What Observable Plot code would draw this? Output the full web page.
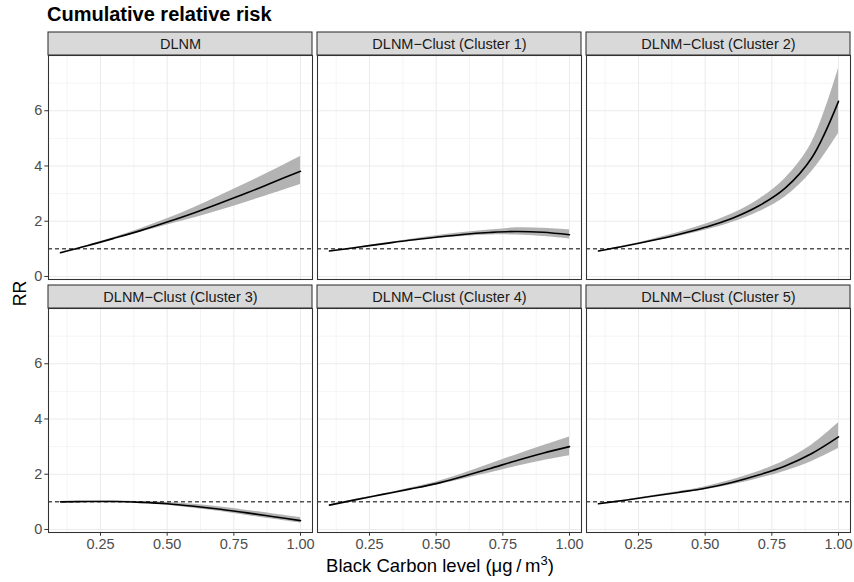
<!DOCTYPE html>
<html>
<head>
<meta charset="utf-8">
<script src="https://cdn.jsdelivr.net/npm/d3@7"></script>
<script src="https://cdn.jsdelivr.net/npm/@observablehq/plot@0.6"></script>
<style>
  html, body { margin: 0; padding: 0; background: #fff; }
  #wrap { position: relative; width: 854px; height: 582px; font-family: "Liberation Sans", Arial, Helvetica, sans-serif; }
  #title { box-sizing: border-box; height: 28px; padding-top: 2px; line-height: 24px; padding-left: 47px; font-size: 20px; font-weight: bold; color: #000; }
  svg { display: block; }
</style>
</head>
<body>
<div id="wrap">
  <div id="title">Cumulative relative risk</div>
  <div id="chart"></div>
</div>
<script>
// ---- data ----
const panelNames = ["DLNM", "DLNM\u2212Clust (Cluster 1)", "DLNM\u2212Clust (Cluster 2)",
                    "DLNM\u2212Clust (Cluster 3)", "DLNM\u2212Clust (Cluster 4)", "DLNM\u2212Clust (Cluster 5)"];
const bcLevel = [0.1, 0.2, 0.3, 0.4, 0.5, 0.6, 0.7, 0.8, 0.9, 1.0];

const fitDLNM = [0.86, 1.11, 1.38, 1.66, 1.97, 2.30, 2.66, 3.03, 3.42, 3.81];
const lowDLNM = [0.85, 1.10, 1.36, 1.60, 1.86, 2.12, 2.40, 2.70, 3.01, 3.33];
const uppDLNM = [0.87, 1.12, 1.41, 1.73, 2.09, 2.49, 2.93, 3.38, 3.85, 4.34];

const fitC1 = [0.92, 1.05, 1.18, 1.31, 1.42, 1.52, 1.59, 1.63, 1.60, 1.51];
const lowC1 = [0.91, 1.04, 1.16, 1.28, 1.38, 1.45, 1.50, 1.50, 1.45, 1.36];
const uppC1 = [0.93, 1.06, 1.20, 1.34, 1.47, 1.59, 1.68, 1.76, 1.75, 1.69];

const fitC2 = [0.92, 1.10, 1.30, 1.52, 1.78, 2.10, 2.55, 3.20, 4.30, 6.34];
const lowC2 = [0.91, 1.08, 1.26, 1.45, 1.67, 1.95, 2.33, 2.88, 3.80, 5.18];
const uppC2 = [0.93, 1.12, 1.34, 1.59, 1.89, 2.26, 2.78, 3.55, 4.85, 7.53];

const fitC3 = [1.00, 1.01, 1.01, 0.98, 0.93, 0.84, 0.73, 0.60, 0.46, 0.32];
const lowC3 = [0.99, 1.00, 0.99, 0.95, 0.88, 0.77, 0.65, 0.51, 0.37, 0.23];
const uppC3 = [1.01, 1.02, 1.03, 1.01, 0.98, 0.91, 0.81, 0.69, 0.56, 0.43];

const fitC4 = [0.88, 1.08, 1.27, 1.46, 1.66, 1.92, 2.20, 2.49, 2.76, 3.00];
const lowC4 = [0.87, 1.07, 1.26, 1.43, 1.60, 1.82, 2.04, 2.28, 2.49, 2.67];
const uppC4 = [0.89, 1.09, 1.28, 1.49, 1.72, 2.02, 2.36, 2.70, 3.03, 3.35];

const fitC5 = [0.93, 1.06, 1.20, 1.34, 1.49, 1.70, 1.97, 2.30, 2.75, 3.35];
const lowC5 = [0.92, 1.05, 1.19, 1.31, 1.44, 1.62, 1.84, 2.11, 2.46, 2.93];
const uppC5 = [0.94, 1.07, 1.22, 1.37, 1.55, 1.79, 2.10, 2.50, 3.06, 3.86];

const xTicks = [0.25, 0.50, 0.75, 1.00];
const xMinor = [0.125, 0.375, 0.625, 0.875];
const yTicks = [0, 2, 4, 6];
const yMinor = [1, 3, 5, 7];
const refRR = 1;

// ---- build tables ----
const fits = [fitDLNM, fitC1, fitC2, fitC3, fitC4, fitC5];
const lows = [lowDLNM, lowC1, lowC2, lowC3, lowC4, lowC5];
const upps = [uppDLNM, uppC1, uppC2, uppC3, uppC4, uppC5];
const panels = panelNames.map((name, i) => ({name, col: i % 3, row: Math.floor(i / 3)}));
const rows = [];
panels.forEach((p, i) => {
  bcLevel.forEach((x, j) => rows.push({col: p.col, row: p.row, x, fit: fits[i][j], lo: lows[i][j], hi: upps[i][j]}));
});

// ---- layout ----
const W = 854, H = 554;
const mTop = 27, mBottom = 50, mLeft = 47, mRight = 4;
const xDom = [0.055, 1.045];
const yDom = [-0.11, 8.0];
const panelH = 224, rowGap = 29, colGap = 5.5;
const stripPx = 23;
const pxPerUnit = panelH / (yDom[1] - yDom[0]);
const stripTop = yDom[1] + stripPx / pxPerUnit;
const panelW = (W - mLeft - mRight - 2 * colGap) / 3;

const font = "'Liberation Sans', Arial, Helvetica, sans-serif";

const svg = Plot.plot({
  width: W, height: H,
  marginTop: mTop, marginBottom: mBottom, marginLeft: mLeft, marginRight: mRight,
  style: {fontFamily: font, fontSize: "14px", background: "#fff", overflow: "visible"},
  fx: {domain: [0, 1, 2], paddingInner: colGap / (panelW + colGap), paddingOuter: 0, axis: null, label: null},
  fy: {domain: [0, 1], paddingInner: rowGap / (panelH + rowGap), paddingOuter: 0, axis: null, label: null},
  x: {domain: xDom, label: null},
  y: {domain: yDom, label: null},
  marks: [
    Plot.gridX(xMinor, {stroke: "#ebebeb", strokeOpacity: 1, strokeWidth: 0.55}),
    Plot.gridY(yMinor, {stroke: "#ebebeb", strokeOpacity: 1, strokeWidth: 0.55}),
    Plot.gridX(xTicks, {stroke: "#ebebeb", strokeOpacity: 1, strokeWidth: 1.07}),
    Plot.gridY(yTicks, {stroke: "#ebebeb", strokeOpacity: 1, strokeWidth: 1.07}),
    Plot.areaY(rows, {fx: "col", fy: "row", x: "x", y1: "lo", y2: "hi", fill: "#b3b3b3", curve: "catmull-rom"}),
    Plot.ruleY([refRR], {stroke: "#000", strokeWidth: 1, strokeDasharray: "4,3"}),
    Plot.line(rows, {fx: "col", fy: "row", x: "x", y: "fit", stroke: "#000", strokeWidth: 1.6, curve: "catmull-rom"}),
    Plot.frame({stroke: "#333333", strokeWidth: 1.07}),
    Plot.rect(panels, {fx: "col", fy: "row", x1: () => xDom[0], x2: () => xDom[1], y1: () => yDom[1], y2: () => stripTop,
                       fill: "#d9d9d9", stroke: "#333333", strokeWidth: 1.07}),
    Plot.text(panels, {fx: "col", fy: "row", x: () => (xDom[0] + xDom[1]) / 2, y: () => (yDom[1] + stripTop) / 2,
                       text: "name", fontSize: 14.5, fill: "#1a1a1a"}),
    Plot.axisX(xTicks, {tickFormat: d3.format(".2f"), tickSize: 3.7, tickPadding: 2.5, stroke: "#333333", fill: "#4d4d4d",
                        fontSize: 14, label: null}),
    Plot.axisY(yTicks, {tickSize: 3.7, tickPadding: 2.5, stroke: "#333333", fill: "#4d4d4d", fontSize: 14, label: null})
  ]
});

document.getElementById("chart").appendChild(svg);

// axis tick label size (force on every tick-label text)
const s = d3.select(svg);
const tickStrings = new Set([...xTicks.map(d3.format(".2f")), ...yTicks.map(String)]);
s.selectAll("text").each(function () {
  if (tickStrings.has(this.textContent.trim())) {
    this.setAttribute("font-size", "14.5");
    this.style.fontSize = "14.5px";
  }
});

// axis titles
s.append("text")
  .attr("transform", `translate(20, ${(mTop + H - mBottom) / 2}) rotate(-90)`)
  .attr("text-anchor", "middle")
  .attr("dy", "0.35em")
  .attr("font-family", font).attr("font-size", 17.6).attr("fill", "#000")
  .text("RR");
const xl = s.append("text")
  .attr("x", 440)
  .attr("y", H - 10)
  .attr("text-anchor", "middle")
  .attr("font-family", font).attr("font-size", 18.5).attr("fill", "#000");
xl.append("tspan").text("Black Carbon level (\u03bcg\u2009/\u2009m");
xl.append("tspan").attr("font-size", 13).attr("dy", -7).text("3");
xl.append("tspan").attr("dy", 7).text(")");
</script>
</body>
</html>
